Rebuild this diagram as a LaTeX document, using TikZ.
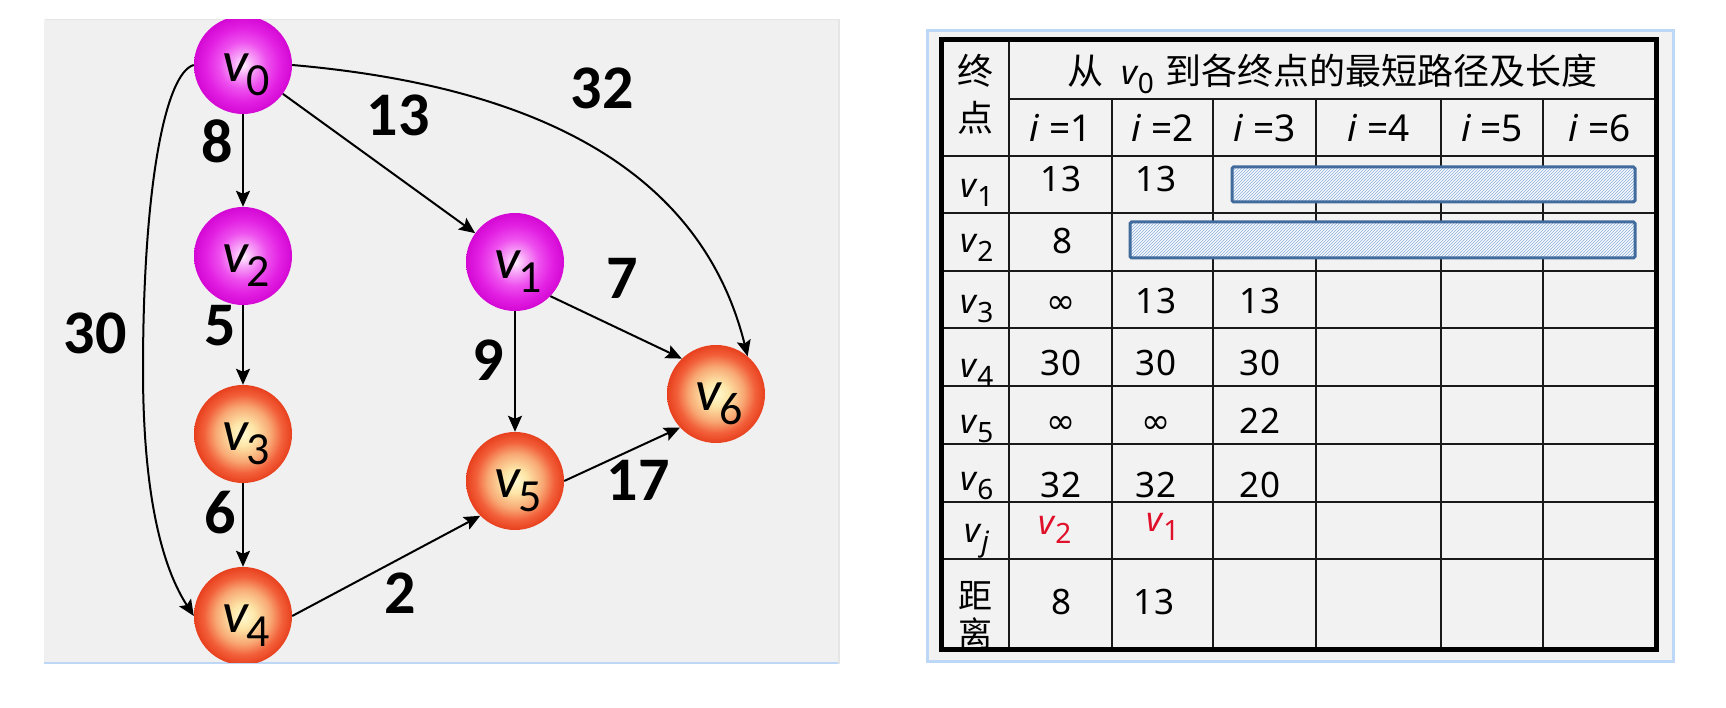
\documentclass[tikz,border=0pt]{standalone}
\usepackage{fontspec}
\usetikzlibrary{arrows.meta,patterns}
\setmainfont{Noto Sans}
\newfontfamily\cjkf{Noto Sans CJK SC}
\newfontfamily\calib{Carlito}
\newfontfamily\djv{DejaVu Sans}
\definecolor{panelbg}{HTML}{F0F0F0}
\definecolor{tabbg}{HTML}{F2F2F2}
\definecolor{glow}{HTML}{BCD8F6}
\definecolor{mA}{HTML}{FFF4FF}
\definecolor{mB}{HTML}{F8A8F8}
\definecolor{mC}{HTML}{EE50EE}
\definecolor{mD}{HTML}{E220E2}
\definecolor{mE}{HTML}{D408D4}
\definecolor{oA}{HTML}{FFFAD0}
\definecolor{oB}{HTML}{FDE6A8}
\definecolor{oC}{HTML}{F8A874}
\definecolor{oD}{HTML}{F2603A}
\definecolor{oE}{HTML}{E8401E}
\definecolor{barline}{HTML}{416B9C}
\definecolor{barhatch}{HTML}{8CAEDC}
\definecolor{barfill}{HTML}{F8FAFD}
\definecolor{redtxt}{HTML}{E0102A}
\pgfdeclareradialshading{magball}{\pgfpoint{0bp}{0bp}}{color(0bp)=(mA); color(5bp)=(mB); color(12bp)=(mC); color(19bp)=(mD); color(25bp)=(mE); color(50bp)=(mE)}
\pgfdeclareradialshading{oraball}{\pgfpoint{0bp}{0bp}}{color(0bp)=(oA); color(6bp)=(oB); color(14bp)=(oC); color(20bp)=(oD); color(25bp)=(oE); color(50bp)=(oE)}
\newcommand{\vlab}[1]{\makebox[0pt]{\hspace*{6pt}\raisebox{-17pt}[0pt][0pt]{\calib\fontsize{58}{58}\selectfont\textit{v}\kern-3pt\raisebox{-14pt}{\fontsize{46}{46}\selectfont #1}}}}
\newcommand{\tv}[1]{{\rmfamily\fontsize{34}{34}\selectfont\textit{v}\kern-1pt\raisebox{-9pt}{\fontsize{28}{28}\selectfont #1}}}
\begin{document}
\begin{tikzpicture}[x=1pt,y=1pt,
  vert/.style={circle,minimum size=98pt,inner sep=0pt},
  magv/.style={vert,shading=magball},
  orav/.style={vert,shading=oraball},
  arr/.style={line width=2pt,-{Stealth[length=16pt,width=14pt,inset=3pt]}},
  wlab/.style={inner sep=0pt,font=\calib\bfseries\fontsize{62}{62}\selectfont},
  gridl/.style={line width=2.4pt,draw=black!90},
  num/.style={anchor=base,inner sep=0pt,font=\fontsize{35}{35}\selectfont},
  inf/.style={anchor=base,inner sep=0pt,font=\djv\fontsize{35}{35}\selectfont},
  ilab/.style={anchor=base,inner sep=0pt,font=\fontsize{37}{37}\selectfont},
  cjkc/.style={anchor=base,inner sep=0pt,font=\cjkf\fontsize{36}{36}\selectfont},
  cjks/.style={anchor=base,inner sep=0pt,font=\cjkf\fontsize{34}{34}\selectfont},
  rlab/.style={anchor=base,inner sep=0pt},
  bar/.style={draw=barline,line width=3pt,rounded corners=1.5pt,preaction={fill=barfill},pattern=north east lines,pattern color=barhatch}
]
\fill[white] (0,0) rectangle (1726,708);
\useasboundingbox (0,0) rectangle (1726,708);
% left panel
\fill[black!10] (45,44) rectangle (840,689);
\fill[panelbg] (44,45) rectangle (838,688);
\draw[glow,line width=1.5pt] (44,45) -- (838,45);
\begin{scope}
\clip (44,45) rectangle (838,688);
\node[magv] (v0) at (243,643) {\vlab{0}};
\node[magv] (v2) at (243,452) {\vlab{2}};
\node[orav] (v3) at (243,274) {\vlab{3}};
\node[orav] (v4) at (243,92) {\vlab{4}};
\node[magv] (v1) at (515,446) {\vlab{1}};
\node[orav] (v5) at (515,227) {\vlab{5}};
\node[orav] (v6) at (716,314) {\vlab{6}};
\coordinate (c30) at (143,338);
\draw[arr] (v0) -- (v2);
\draw[arr] (v2) -- (v3);
\draw[arr] (v3) -- (v4);
\draw[arr] (v0) -- (v1);
\draw[arr] (v1) -- (v5);
\draw[arr] (v1.-44) -- (v6.134);
\draw[arr] (v4.east) -- (v5.225);
\draw[arr] (v5.east) -- (v6.223);
\draw[arr] (v0.east) to[out=-5,in=104] (v6.50);
\draw[arr] (v0.west) .. controls (165,635) and (143,520) .. (c30) .. controls (143,240) and (155,152) .. (v4.west);
\node[wlab] (l8) at (217,567) {8};
\node[wlab] (l13) at (398,593) {13};
\node[wlab] (l32) at (602,620) {32};
\node[wlab] (l30) at (95,375) {30};
\node[wlab] (l5) at (220,382) {5};
\node[wlab] (l7) at (622,430) {7};
\node[wlab] (l9) at (488,348) {9};
\node[wlab] (l6) at (220,195) {6};
\node[wlab] (l17) at (638,228) {17};
\node[wlab] (l2) at (400,115) {2};
\end{scope}
% table panel
\draw[glow,line width=3pt,fill=tabbg] (927,46) rectangle (1673,677);
\draw[gridl] (1009,609) -- (1656,609);
\foreach \y in {552,495,437,380,322,264,206,149} \draw[gridl] (941,\y) -- (1656,\y);
\draw[gridl] (1009,58) -- (1009,668);
\foreach \x in {1112,1213,1316,1441,1543} \draw[gridl] (\x,58) -- (\x,609);
\path[bar] (1232,506) rectangle (1635,541);
\path[bar] (1130,450) rectangle (1635,486);
\node[cjkc] (hz) at (975,623) {终};
\node[cjkc] (hd) at (975,576) {点};
\node[cjkc] (title) at (1332.5,623) {从\hspace{18pt}\tv{0}\hspace{12pt}到各终点的最短路径及长度};
\foreach \x/\n in {1060.5/1,1162.5/2,1264.5/3,1378.5/4,1492/5,1599.5/6}
  \node[ilab] (i\n) at (\x,566) {\textit{i} =\n};
\node[rlab] (r1) at (977,510) {\tv{1}};
\node[rlab] (r2) at (977,455) {\tv{2}};
\node[rlab] (r3) at (977,394) {\tv{3}};
\node[rlab] (r4) at (977,330) {\tv{4}};
\node[rlab] (r5) at (977,274) {\tv{5}};
\node[rlab] (r6) at (977,217) {\tv{6}};
\node[rlab] (rj) at (977,165) {\tv{\textit{j}}};
\node[num] (a11) at (1061,516) {13};
\node[num] (a12) at (1156,516) {13};
\node[num] (a21) at (1062,454) {8};
\node[inf] (a31) at (1061,394) {∞};
\node[num] (a32) at (1156,394) {13};
\node[num] (a33) at (1260,394) {13};
\node[num] (a41) at (1061,332) {30};
\node[num] (a42) at (1156,332) {30};
\node[num] (a43) at (1260,332) {30};
\node[inf] (a51) at (1061,274) {∞};
\node[inf] (a52) at (1156,274) {∞};
\node[num] (a53) at (1260,274) {22};
\node[num] (a61) at (1061,210) {32};
\node[num] (a62) at (1156,210) {32};
\node[num] (a63) at (1260,210) {20};
\node[rlab,text=redtxt] (j1) at (1055,173) {\tv{2}};
\node[rlab,text=redtxt] (j2) at (1163,176) {\tv{1}};
\node[num] (d1) at (1061,93) {8};
\node[num] (d2) at (1154,93) {13};
\node[cjks] (dj) at (975,99) {距};
\begin{scope}
\clip (941,58) rectangle (1656,668);
\node[cjks] (dl) at (975,61) {离};
\end{scope}
\draw[line width=5pt] (941,58) rectangle (1656,668);
\end{tikzpicture}
\end{document}
